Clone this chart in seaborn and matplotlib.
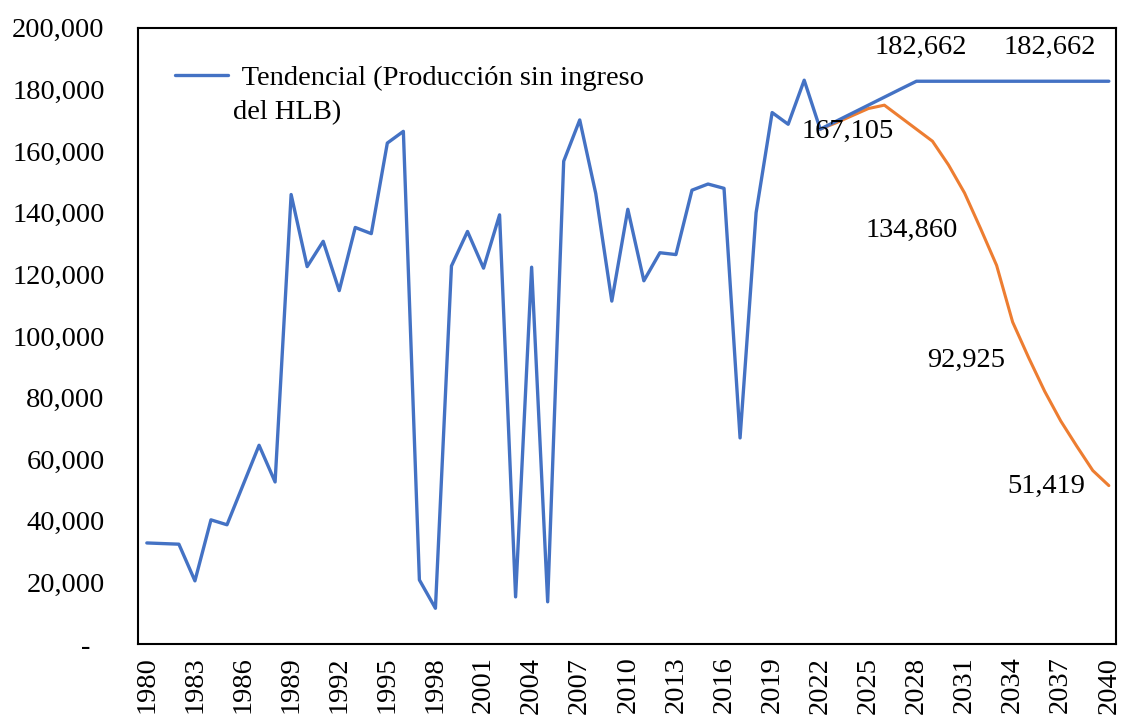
import numpy as np
import pandas as pd
import matplotlib
matplotlib.use("Agg")
import matplotlib.pyplot as plt
import seaborn as sns

# Tendencial (blue) series, 1980-2040
years_blue = list(range(1980, 2041))
prod_blue = [32800, 32600, 32400, 20500, 40300, 38700, 51600, 64500, 52600, 145900,
             122500, 130700, 114700, 135200, 133200, 162600, 166400, 20800, 11600, 122700,
             133900, 122000, 139300, 15300, 122300, 13700, 156700, 170100, 146200, 111300,
             141100, 117900, 127000, 126400, 147300, 149300, 147900, 66900, 140000, 172500,
             168700, 183000, 167105, 169700, 172300, 174900, 177500, 180100, 182662, 182662,
             182662, 182662, 182662, 182662, 182662, 182662, 182662, 182662, 182662, 182662,
             182662]

# HLB scenario (orange) series, 2022-2040
years_orange = list(range(2022, 2041))
prod_orange = [167105, 169200, 171500, 173800, 174900, 171000, 167100, 163200, 155500, 146400,
               134860, 122900, 104500, 92925, 82000, 72400, 64200, 56300, 51419]

# data labels: text, x (year), y
label_text = ["182,662", "182,662", "167,105", "134,860", "92,925", "51,419"]
label_x = [2028.3, 2036.3, 2023.7, 2027.7, 2031.1, 2036.1]
label_y = [193800, 193800, 166500, 134200, 92200, 51000]

y_ticks = list(range(0, 200001, 20000))
x_ticks = list(range(1980, 2041, 3))

blue = "#4472C4"
orange = "#ED7D31"

sns.set_style("white")
plt.rcParams['font.family'] = ['Liberation Serif', 'DejaVu Serif']
plt.rcParams['text.color'] = 'black'
plt.rcParams['xtick.color'] = 'black'
plt.rcParams['ytick.color'] = 'black'

df_blue = pd.DataFrame({'year': years_blue, 'prod': prod_blue})
df_orange = pd.DataFrame({'year': years_orange, 'prod': prod_orange})

fig = plt.figure(figsize=(11.22, 7.19), dpi=100)
ax = fig.add_axes([0.123, 0.1043, 0.8717, 0.857])

sns.lineplot(data=df_orange, x='year', y='prod', color=orange, linewidth=2.2, ax=ax)
sns.lineplot(data=df_blue, x='year', y='prod', color=blue, linewidth=2.4, ax=ax,
             label=' Tendencial (Producción sin ingreso')

for t, x, y in zip(label_text, label_x, label_y):
    ax.text(x, y, t, ha='center', va='center', fontsize=20.5, color='black')

ax.set_xlim(1979.45, 2040.45)
ax.set_ylim(0, 200000)
ax.set_xticks(x_ticks)
ax.set_xticklabels([str(x) for x in x_ticks], rotation=90, fontsize=20.5)
ax.set_yticks(y_ticks)
ax.set_yticklabels(['-  '] + [f"{v:,}" for v in y_ticks[1:]], fontsize=20.5)
ax.tick_params(axis='x', length=0, pad=9, colors='black')
ax.tick_params(axis='y', length=0, pad=24, colors='black')
ax.set_xlabel('')
ax.set_ylabel('')

for s in ax.spines.values():
    s.set_color('black')
    s.set_linewidth(1.5)

leg = ax.legend(loc='center left', bbox_to_anchor=(0.0378, 0.919), frameon=False,
                fontsize=20.5, handlelength=1.85, handletextpad=0.25,
                borderaxespad=0, borderpad=0)
for t in leg.get_texts():
    t.set_color('black')
# second line of the legend entry
ax.text(0.0971, 0.862, 'del HLB)', transform=ax.transAxes, ha='left', va='center',
        fontsize=20.5, color='black')

fig.savefig('out.png', dpi=100)
